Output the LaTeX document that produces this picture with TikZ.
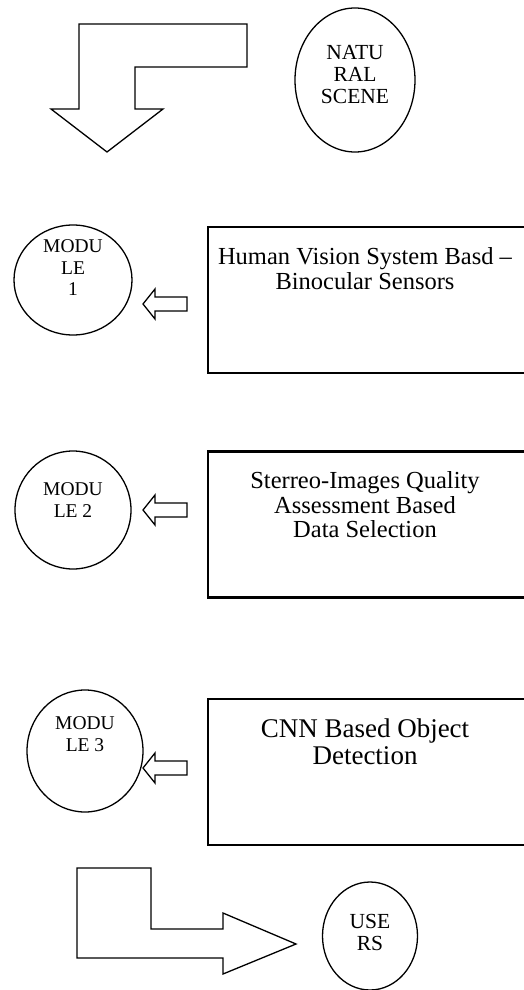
\documentclass[tikz,border=0pt]{standalone}
\usepackage{fontspec}
\setmainfont{Liberation Serif}
\usetikzlibrary{shapes.geometric, calc}
\tikzset{
  oval/.style={
    draw, ellipse, line width=1.3pt, inner sep=0pt
  },
  ovaltext/.style={
    align=center, inner sep=0pt, font=\fontsize{21.5}{22}\selectfont
  },
  modtext/.style={
    align=center, inner sep=0pt, font=\fontsize{19.5}{21.5}\selectfont
  },
  stagebox/.style={
    draw, rectangle, line width=2.2pt, inner sep=0pt,
    minimum width=330pt, minimum height=146pt
  },
  boxtext/.style={
    align=center, inner sep=0pt, anchor=north,
    font=\fontsize{24.5}{24.5}\selectfont
  },
  blockarrow/.style={
    draw, line width=1.3pt, line join=miter, fill=white
  }
}

\begin{document}
\begin{tikzpicture}[x=1pt, y=-1pt]
    \useasboundingbox (0,0) rectangle (523,990);

    % input and output
    \node[oval, minimum width=120pt, minimum height=144pt] (scene) at (355,80) {};
    \node[ovaltext] (scenetext) at (355,75) {NATU\\RAL\\SCENE};
    \node[oval, minimum width=95pt, minimum height=108pt] (users) at (370,936) {};
    \node[ovaltext] (userstext) at (370,932) {USE\\RS};

    % modules
    \node[oval, minimum width=118pt, minimum height=110pt] (mod1) at (73,280) {};
    \node[modtext] (mod1text) at (73,268) {MODU\\LE\\1};
    \node[oval, minimum width=116pt, minimum height=118pt] (mod2) at (73,510) {};
    \node[modtext] (mod2text) at (73,500) {MODU\\LE 2};
    \node[oval, minimum width=116pt, minimum height=122pt] (mod3) at (85,751) {};
    \node[modtext] (mod3text) at (85,734) {MODU\\LE 3};

    % stages
    \node[stagebox] (hvs) at (373,300) {};
    \node[boxtext] (hvstext) at (365,247.5) {Human Vision System Basd --\\Binocular Sensors};
    \node[stagebox] (quality) at (373,524.5) {};
    \node[boxtext] (qualitytext) at (365,471.5) {Sterreo-Images Quality\\Assessment Based\\Data Selection};
    \node[stagebox] (cnn) at (373,772) {};
    \node[boxtext, font=\fontsize{27}{27}\selectfont] (cnntext) at (365,718.5) {CNN Based Object\\Detection};

    % block arrows
    \draw[blockarrow] (247,24) -- (79,24) -- (79,109) -- (51,109) -- (107,152)
        -- (163,109) -- (135,109) -- (135,67) -- (247,67) -- cycle;
    \draw[blockarrow] (143,304) -- (155,289) -- (155,297) -- (187,297)
        -- (187,311) -- (155,311) -- (155,319) -- cycle;
    \draw[blockarrow] (143,510) -- (155,495) -- (155,503) -- (187,503)
        -- (187,517) -- (155,517) -- (155,525) -- cycle;
    \draw[blockarrow] (143,768) -- (155,753) -- (155,761) -- (187,761)
        -- (187,775) -- (155,775) -- (155,783) -- cycle;
    \draw[blockarrow] (77,868) -- (151,868) -- (151,929) -- (223,929) -- (223,913)
        -- (296,944) -- (223,974) -- (223,958) -- (77,958) -- cycle;
\end{tikzpicture}
\end{document}
